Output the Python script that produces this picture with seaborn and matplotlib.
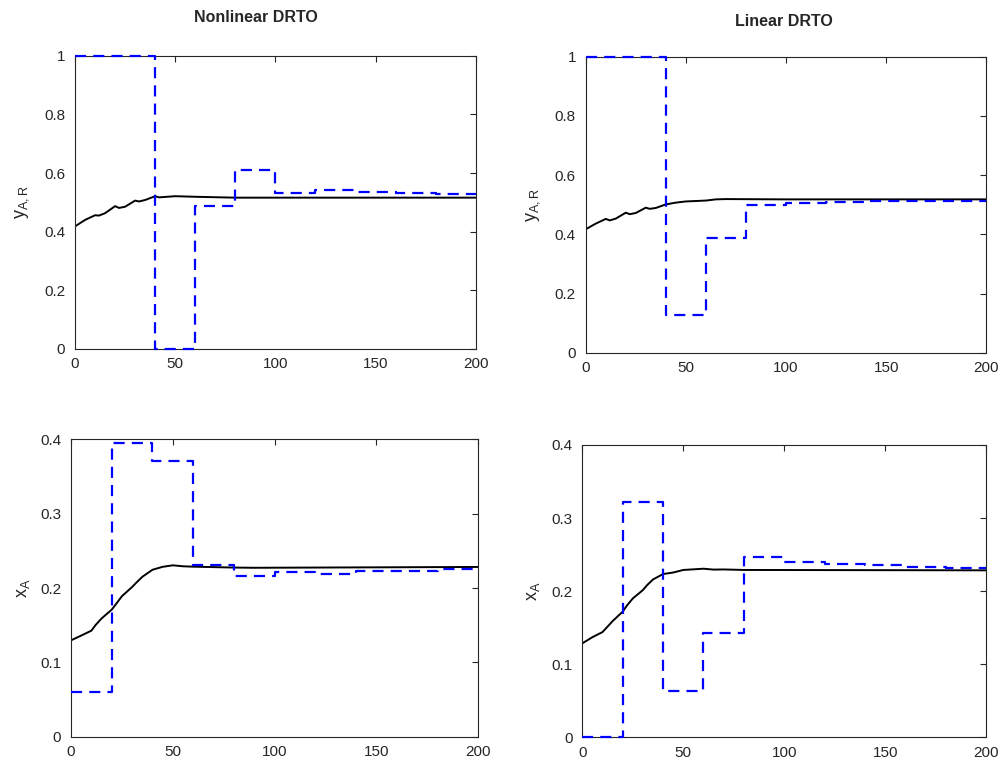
import numpy as np
import pandas as pd
import matplotlib
matplotlib.use("Agg")
import matplotlib.pyplot as plt
import seaborn as sns

sns.set_style("white")
plt.rcParams['font.family'] = ['Liberation Sans', 'DejaVu Sans']
plt.rcParams['mathtext.fontset'] = 'custom'
plt.rcParams['mathtext.rm'] = 'Liberation Sans'
plt.rcParams['mathtext.it'] = 'Liberation Sans'

# ---------------- data ----------------
step_t = [0, 20, 40, 60, 80, 100, 120, 140, 160, 180, 200]

# Nonlinear DRTO, y_A,R
nl_yar_set = [1.0, 1.0, 0.0, 0.489, 0.609, 0.531, 0.542, 0.534, 0.531, 0.527, 0.527]
nl_yar_t = [0, 5, 10, 12, 15, 20, 22, 25, 30, 32, 35, 40, 42, 50, 60, 80, 100, 200]
nl_yar = [0.418, 0.440, 0.456, 0.455, 0.463, 0.487, 0.481, 0.485, 0.506, 0.503,
          0.508, 0.521, 0.517, 0.521, 0.519, 0.516, 0.516, 0.516]

# Linear DRTO, y_A,R
lin_yar_set = [1.0, 1.0, 0.127, 0.389, 0.500, 0.505, 0.508, 0.511, 0.512, 0.513, 0.513]
lin_yar_t = [0, 5, 10, 12, 15, 20, 22, 25, 30, 32, 35, 40, 45, 50, 60, 65, 70, 100, 200]
lin_yar = [0.417, 0.436, 0.452, 0.447, 0.453, 0.473, 0.468, 0.472, 0.490, 0.486,
           0.489, 0.501, 0.507, 0.511, 0.514, 0.518, 0.519, 0.518, 0.518]

# Nonlinear DRTO, x_A
nl_xa_set = [0.0596, 0.395, 0.371, 0.2305, 0.2157, 0.221, 0.2184, 0.2233, 0.2224, 0.226, 0.226]
nl_xa_t = [0, 5, 10, 12, 15, 20, 22, 25, 30, 32, 35, 40, 45, 50, 55, 60, 80, 90, 200]
nl_xa = [0.1296, 0.136, 0.1426, 0.150, 0.159, 0.1709, 0.178, 0.189, 0.2013, 0.207,
         0.215, 0.2245, 0.2285, 0.2305, 0.2292, 0.2287, 0.2275, 0.2272, 0.2283]

# Linear DRTO, x_A
lin_xa_set = [0.0, 0.322, 0.0629, 0.1427, 0.2467, 0.2403, 0.2376, 0.2353, 0.2335, 0.2316, 0.2316]
lin_xa_t = [0, 5, 10, 12, 15, 20, 22, 25, 30, 32, 35, 40, 45, 50, 60, 65, 70, 80, 200]
lin_xa = [0.1286, 0.137, 0.144, 0.150, 0.159, 0.172, 0.180, 0.190, 0.2015, 0.208,
          0.216, 0.2234, 0.2255, 0.2290, 0.2307, 0.2295, 0.2297, 0.2290, 0.2285]

x_ticks = [0, 50, 100, 150, 200]
yar_ticks = [0, 0.2, 0.4, 0.6, 0.8, 1]
yar_labels = ["0", "0.2", "0.4", "0.6", "0.8", "1"]
xa_ticks = [0, 0.1, 0.2, 0.3, 0.4]
xa_labels = ["0", "0.1", "0.2", "0.3", "0.4"]

W, H = 1003, 769
fig = plt.figure(figsize=(W / 100, H / 100), dpi=100)

def pos(l, r, t, b):
    return [l / W, 1 - b / H, (r - l) / W, (b - t) / H]

panels = [
    (pos(75, 475.7, 55.7, 349), nl_yar_set, nl_yar_t, nl_yar, (0, 1), yar_ticks, yar_labels, r'$\mathregular{y_{A,R}}$', 31),
    (pos(585.7, 986.3, 56.7, 352.7), lin_yar_set, lin_yar_t, lin_yar, (0, 1), yar_ticks, yar_labels, r'$\mathregular{y_{A,R}}$', 542),
    (pos(71, 478.3, 439.3, 736.7), nl_xa_set, nl_xa_t, nl_xa, (0, 0.4), xa_ticks, xa_labels, r'$\mathregular{x_{A}}$', 32),
    (pos(582.3, 986.3, 445, 737.3), lin_xa_set, lin_xa_t, lin_xa, (0, 0.4), xa_ticks, xa_labels, r'$\mathregular{x_{A}}$', 542),
]

edge = '#262626'
for rect, sset, tt, yy, ylim, yt, ytl, ylab, ylx in panels:
    ax = fig.add_axes(rect)
    df_s = pd.DataFrame({'t': step_t, 'v': sset})
    df_l = pd.DataFrame({'t': tt, 'v': yy})
    sns.lineplot(data=df_s, x='t', y='v', ax=ax, color='#0000ff', lw=1.6,
                 drawstyle='steps-post', dashes=False, linestyle=(0, (5.0, 3.2)),
                 zorder=3, clip_on=False)
    sns.lineplot(data=df_l, x='t', y='v', ax=ax, color='black', lw=1.4, zorder=2)
    ax.set_xlim(0, 200)
    ax.set_ylim(*ylim)
    ax.set_xticks(x_ticks)
    ax.set_xticklabels([str(v) for v in x_ticks])
    ax.set_yticks(yt)
    ax.set_yticklabels(ytl)
    ax.set_xlabel('')
    ax.set_ylabel(ylab, fontsize=13, color='#262626')
    x0 = rect[0] * W
    ax.yaxis.set_label_coords((ylx - x0) / (rect[2] * W), 0.5)
    ax.tick_params(direction='in', length=4, width=0.8, colors=edge, labelsize=11,
                   top=True, right=True, labelcolor='#262626')
    ax.tick_params(axis='y', pad=7)
    ax.tick_params(axis='x', pad=6)
    for s in ax.spines.values():
        s.set_color(edge)
        s.set_linewidth(0.8)
        s.set_visible(True)

fig.text(256 / W, 1 - 17 / H, 'Nonlinear DRTO', ha='center', va='center',
         fontsize=11.5, fontweight='bold')
fig.text(784 / W, 1 - 22 / H, 'Linear DRTO', ha='center', va='center',
         fontsize=11.5, fontweight='bold')

fig.savefig('out.png', dpi=100, facecolor='white')
